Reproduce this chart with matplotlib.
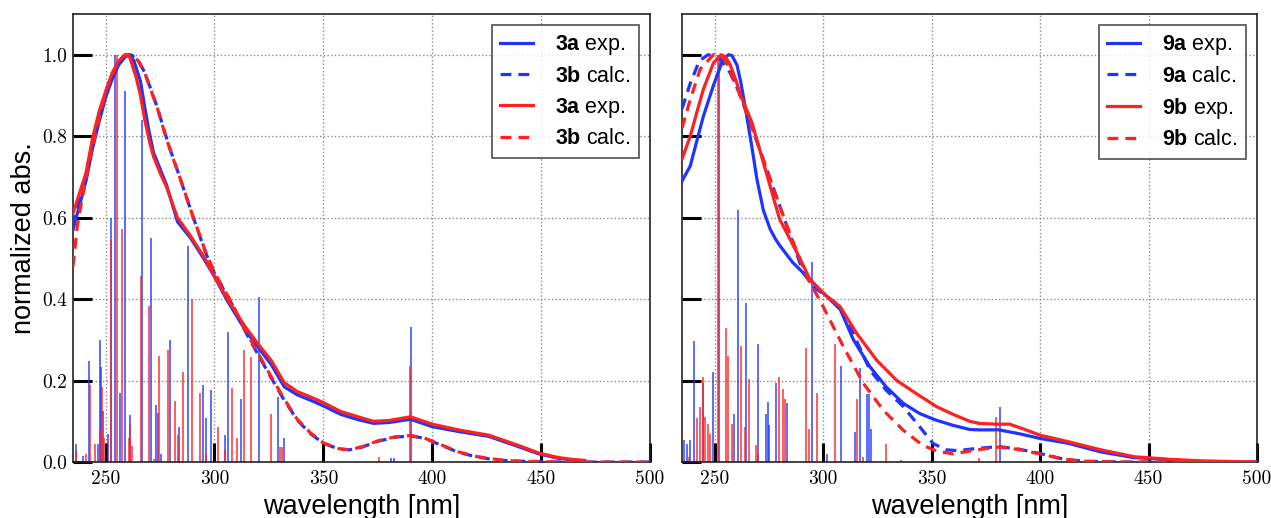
import matplotlib
matplotlib.use("Agg")
import matplotlib.pyplot as plt
from matplotlib.ticker import FuncFormatter, MultipleLocator

plt.rcParams['mathtext.fontset'] = 'custom'
plt.rcParams['mathtext.bf'] = 'Liberation Sans:bold'
plt.rcParams['mathtext.rm'] = 'Liberation Sans'
plt.rcParams['font.family'] = ['Liberation Sans', 'DejaVu Sans']

BLUE = '#1f35ff'
RED = '#ff2020'

# ---------- left panel: 3a / 3b ----------
l_exp_b_wl = [235, 238, 241, 244, 247, 250, 253, 256, 259, 261, 263, 266, 268, 270, 272, 275, 278, 283, 289, 295,
              300, 306, 314, 321, 326, 332, 338, 344, 350, 358, 366, 373, 380, 390, 400, 412, 426, 440, 449, 458, 465, 470]
l_exp_b = [0.57, 0.63, 0.69, 0.77, 0.835, 0.895, 0.94, 0.975, 0.995, 1.0, 0.985, 0.935, 0.87, 0.81, 0.76, 0.72, 0.68,
           0.59, 0.55, 0.50, 0.455, 0.395, 0.325, 0.275, 0.24, 0.185, 0.165, 0.152, 0.138, 0.117, 0.104, 0.095, 0.097,
           0.105, 0.087, 0.075, 0.063, 0.037, 0.02, 0.009, 0.005, 0.003]

l_exp_r_wl = [235, 238, 241, 244, 247, 250, 253, 256, 259, 261, 264, 266, 268, 270, 272, 275, 278, 283, 289, 295,
              300, 306, 314, 321, 326, 332, 338, 344, 350, 358, 366, 373, 380, 390, 400, 412, 426, 440, 449, 458, 465, 470]
l_exp_r = [0.61, 0.66, 0.71, 0.795, 0.86, 0.91, 0.955, 0.985, 1.0, 0.995, 0.945, 0.90, 0.84, 0.79, 0.75, 0.71, 0.675,
           0.60, 0.555, 0.505, 0.456, 0.40, 0.333, 0.283, 0.25, 0.195, 0.173, 0.16, 0.146, 0.124, 0.111, 0.10, 0.102,
           0.111, 0.093, 0.079, 0.066, 0.04, 0.022, 0.011, 0.006, 0.004]

l_calc_wl = [235, 237, 240, 243, 246, 250, 253, 256, 259, 262, 265, 268, 271, 274, 277, 280, 284, 290, 296, 300, 308,
             314, 320, 326, 332, 338, 344, 350, 357, 362, 368, 375, 383, 390, 396, 402, 412, 420, 426, 433, 440, 460, 500]
l_calc_r = [0.48, 0.58, 0.67, 0.75, 0.82, 0.91, 0.95, 0.985, 1.0, 0.998, 0.985, 0.955, 0.91, 0.865, 0.81, 0.76, 0.70,
            0.605, 0.515, 0.465, 0.39, 0.325, 0.267, 0.21, 0.155, 0.105, 0.072, 0.047, 0.033, 0.03, 0.038, 0.052,
            0.062, 0.065, 0.06, 0.047, 0.025, 0.014, 0.009, 0.004, 0.002, 0.0, 0.0]
l_calc_b = [0.58, 0.62, 0.68, 0.755, 0.825, 0.905, 0.948, 0.983, 0.999, 0.999, 0.986, 0.956, 0.912, 0.866, 0.812,
            0.762, 0.70, 0.604, 0.513, 0.463, 0.388, 0.322, 0.264, 0.207, 0.152, 0.103, 0.07, 0.046, 0.032, 0.03,
            0.037, 0.051, 0.061, 0.064, 0.059, 0.046, 0.024, 0.013, 0.008, 0.004, 0.002, 0.0, 0.0]

l_stick_b_wl = [236.6, 239.8, 242.4, 246.6, 247.3, 247.9, 249.0, 250.9, 252.6, 254.3, 256.4, 258.8, 261.3, 266.5,
                270.7, 273.2, 273.9, 275.5, 279.7, 283.8, 287.8, 294.5, 295.9, 298.5, 304.6, 306.1, 312.2, 320.3,
                329.3, 332.0, 381.0, 382.5, 390.1]
l_stick_b = [0.045, 0.014, 0.249, 0.045, 0.30, 0.234, 0.126, 0.07, 0.60, 1.0, 0.17, 0.91, 0.115, 0.84, 0.55, 0.14,
             0.12, 0.02, 0.30, 0.086, 0.53, 0.19, 0.107, 0.178, 0.067, 0.32, 0.156, 0.405, 0.16, 0.06, 0.01, 0.01,
             0.331]
l_stick_r_wl = [236.6, 241.2, 242.8, 245.1, 247.6, 248.3, 249.4, 252.7, 255.0, 257.5, 260.7, 261.0, 262.0, 266.2,
                269.8, 272.4, 274.7, 278.7, 281.9, 283.1, 285.7, 289.9, 293.4, 296.2, 301.5, 305.0, 308.2, 310.2,
                313.6, 316.8, 325.9, 330.0, 331.0, 375.6, 389.9]
l_stick_r = [0.027, 0.02, 0.19, 0.044, 0.082, 0.185, 0.06, 0.544, 1.0, 0.573, 0.06, 0.094, 0.04, 0.456, 0.382, 0.008,
             0.26, 0.275, 0.15, 0.066, 0.222, 0.40, 0.17, 0.02, 0.085, 0.03, 0.183, 0.058, 0.274, 0.257, 0.117, 0.037,
             0.038, 0.013, 0.237]

# ---------- right panel: 9a / 9b ----------
r_exp_b_wl = [235, 238.8, 241.9, 244.9, 249.5, 254, 256.5, 258, 260.3, 262, 264, 267, 269.5, 272.5, 275.6, 278, 280,
              286, 292.5, 297, 303, 308, 314, 321.6, 329, 337, 344.6, 352, 360, 367.6, 372, 381, 390, 400, 413, 428,
              443, 459, 470, 480, 500]
r_exp_b = [0.69, 0.727, 0.79, 0.85, 0.925, 0.99, 1.0, 0.998, 0.975, 0.935, 0.875, 0.78, 0.695, 0.618, 0.572, 0.548,
           0.532, 0.49, 0.456, 0.431, 0.40, 0.374, 0.30, 0.234, 0.185, 0.144, 0.119, 0.103, 0.09, 0.08, 0.079, 0.079,
           0.07, 0.058, 0.046, 0.025, 0.011, 0.006, 0.002, 0.0, 0.0]

r_exp_r_wl = [235, 238.8, 241.9, 244.9, 249.5, 253, 255, 257.2, 260, 262, 267.2, 272.5, 280, 288, 294, 301.7, 307.8,
              315.5, 324.7, 334, 343, 352.3, 360, 367.6, 372, 380, 386, 393, 400, 413, 428, 443.5, 459, 474, 500]
r_exp_r = [0.744, 0.80, 0.86, 0.916, 0.98, 1.0, 0.995, 0.975, 0.935, 0.90, 0.834, 0.735, 0.596, 0.514, 0.448, 0.407,
           0.382, 0.316, 0.25, 0.2, 0.168, 0.136, 0.117, 0.1, 0.095, 0.093, 0.093, 0.08, 0.066, 0.05, 0.03, 0.013,
           0.007, 0.003, 0.0]

r_calc_b_wl = [235, 238.8, 243, 247, 252, 257, 262, 268, 275.6, 283.3, 291, 295.6, 301.7, 307.8, 312.4, 321.6, 329,
               337, 344.6, 350.8, 357, 362, 370, 381, 390, 400, 411, 420, 440, 500]
r_calc_b = [0.867, 0.93, 0.985, 1.0, 0.994, 0.957, 0.90, 0.81, 0.695, 0.58, 0.464, 0.43, 0.407, 0.382, 0.333, 0.226,
            0.177, 0.136, 0.086, 0.045, 0.03, 0.028, 0.033, 0.038, 0.032, 0.021, 0.007, 0.002, 0.0, 0.0]

r_calc_r_wl = [235, 238.8, 243.4, 249.5, 254.6, 260, 268, 275.6, 283.3, 292.5, 300, 309.4, 318.6, 327.8, 337, 346,
               352.3, 360, 367.6, 375, 381, 390, 400, 411, 420, 440, 500]
r_calc_r = [0.82, 0.89, 0.965, 1.0, 0.99, 0.925, 0.81, 0.695, 0.58, 0.456, 0.382, 0.283, 0.193, 0.127, 0.078, 0.041,
            0.027, 0.02, 0.027, 0.033, 0.037, 0.031, 0.02, 0.007, 0.002, 0.0, 0.0]

r_stick_b_wl = [235.7, 237.3, 238.8, 240.6, 244.5, 249.5, 252.0, 259.0, 260.9, 264.6, 269.8, 273.8, 274.5, 275.3,
                278.4, 283.3, 294.8, 302.0, 308.1, 314.7, 317.2, 320.1, 321.2, 321.9, 381.4]
r_stick_b = [0.053, 0.045, 0.053, 0.298, 0.193, 0.222, 1.0, 0.119, 0.62, 0.39, 0.29, 0.119, 0.148, 0.09, 0.193,
             0.144, 0.49, 0.02, 0.237, 0.074, 0.23, 0.168, 0.167, 0.082, 0.136]
r_stick_r_wl = [238.0, 241.9, 243.1, 244.5, 245.7, 246.8, 247.7, 251.6, 255.4, 256.3, 258.1, 262.1, 264.1, 266.1,
                269.2, 270.2, 279.9, 281.4, 282.5, 292.2, 293.7, 297.1, 305.5, 315.5, 318.3, 329.0, 335.7, 371.7,
                379.8]
r_stick_r = [0.012, 0.107, 0.136, 0.21, 0.11, 0.094, 0.07, 1.0, 0.33, 0.26, 0.094, 0.285, 0.086, 0.203, 0.041, 0.02,
             0.21, 0.18, 0.156, 0.28, 0.082, 0.17, 0.29, 0.156, 0.012, 0.044, 0.004, 0.01, 0.111]


def style_axis(ax, show_ylabels):
    ax.set_xlim(235, 500)
    ax.set_ylim(0, 1.1)
    ax.xaxis.set_major_locator(MultipleLocator(50))
    ax.yaxis.set_major_locator(MultipleLocator(0.2))
    ax.grid(True, color='#8a8a8a', linestyle=':', linewidth=1.0)
    ax.set_axisbelow(True)
    ax.tick_params(direction='in', length=14, width=2.2, color='black', labelsize=14, pad=6)
    ax.tick_params(axis='y', pad=4)
    for lbl in ax.get_xticklabels() + ax.get_yticklabels():
        lbl.set_fontfamily('cmr10')
    ax.yaxis.set_major_formatter(FuncFormatter(lambda v, p: f'{v:.1f}'))
    if not show_ylabels:
        ax.set_yticklabels([])
    for s in ax.spines.values():
        s.set_color('#222222')
        s.set_linewidth(1.2)
    ax.set_xlabel('wavelength [nm]', fontsize=19.5, labelpad=4)


fig = plt.figure(figsize=(12.71, 5.18), dpi=100)
ax1 = fig.add_axes([0.0574, 0.108, 0.4540, 0.865])
ax2 = fig.add_axes([0.5366, 0.108, 0.4524, 0.865])

dash = (3.4, 2.2)
lw = 2.3

# left
ax1.vlines(l_stick_b_wl, 0, l_stick_b, color=BLUE, lw=1.2, alpha=0.85, zorder=2)
ax1.vlines(l_stick_r_wl, 0, l_stick_r, color=RED, lw=1.2, alpha=0.85, zorder=2)
ax1.plot(l_exp_b_wl, l_exp_b, color=BLUE, lw=lw, label=r'$\mathbf{3a}$ exp.', zorder=3)
ax1.plot(l_calc_wl, l_calc_b, color=BLUE, lw=lw, dashes=dash, label=r'$\mathbf{3b}$ calc.', zorder=3)
ax1.plot(l_exp_r_wl, l_exp_r, color=RED, lw=lw, label=r'$\mathbf{3a}$ exp.', zorder=3)
ax1.plot(l_calc_wl, l_calc_r, color=RED, lw=lw, dashes=dash, label=r'$\mathbf{3b}$ calc.', zorder=3)

# right
ax2.vlines(r_stick_b_wl, 0, r_stick_b, color=BLUE, lw=1.2, alpha=0.85, zorder=2)
ax2.vlines(r_stick_r_wl, 0, r_stick_r, color=RED, lw=1.2, alpha=0.85, zorder=2)
ax2.plot(r_exp_b_wl, r_exp_b, color=BLUE, lw=lw, label=r'$\mathbf{9a}$ exp.', zorder=3)
ax2.plot(r_calc_b_wl, r_calc_b, color=BLUE, lw=lw, dashes=dash, label=r'$\mathbf{9a}$ calc.', zorder=3)
ax2.plot(r_exp_r_wl, r_exp_r, color=RED, lw=lw, label=r'$\mathbf{9b}$ exp.', zorder=3)
ax2.plot(r_calc_r_wl, r_calc_r, color=RED, lw=lw, dashes=dash, label=r'$\mathbf{9b}$ calc.', zorder=3)

style_axis(ax1, True)
style_axis(ax2, False)
ax1.set_ylabel('normalized abs.', fontsize=19.5, labelpad=4)

for ax in (ax1, ax2):
    leg = ax.legend(loc='upper right', fontsize=15.5, frameon=True, fancybox=False, handlelength=1.5,
                    handletextpad=1.05, labelspacing=0.4, borderaxespad=0.5, borderpad=0.4)
    leg.get_frame().set_edgecolor('#222222')
    leg.get_frame().set_linewidth(1.2)

fig.savefig('out.png', dpi=100)
